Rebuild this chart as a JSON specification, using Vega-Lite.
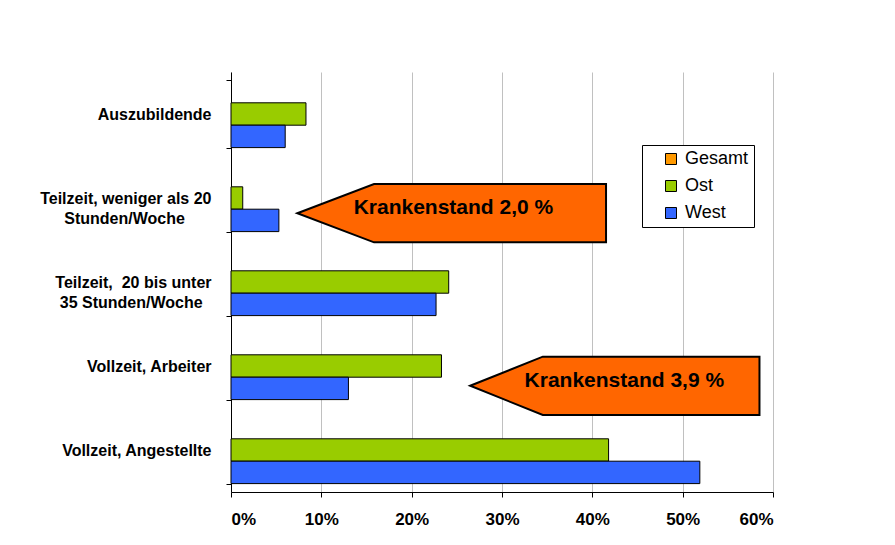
{
  "$schema": "https://vega.github.io/schema/vega-lite/v6.json",
  "width": 542,
  "height": 420,
  "padding": {"top": 64, "left": 5, "right": 5, "bottom": 5},
  "background": "white",
  "config": {
    "font": "Liberation Sans",
    "view": {"stroke": null},
    "axis": {"labelColor": "black", "domainColor": "black", "tickColor": "black", "labelFont": "Liberation Sans"},
    "legend": {"labelFont": "Liberation Sans"}
  },
  "layer": [
    {
      "data": {
        "values": [
          {"Kategorie": "Auszubildende", "Gruppe": "Ost", "Anteil": 0.083},
          {"Kategorie": "Auszubildende", "Gruppe": "West", "Anteil": 0.060},
          {"Kategorie": "Teilzeit, weniger als 20 Stunden/Woche", "Gruppe": "Ost", "Anteil": 0.013},
          {"Kategorie": "Teilzeit, weniger als 20 Stunden/Woche", "Gruppe": "West", "Anteil": 0.053},
          {"Kategorie": "Teilzeit, 20 bis unter 35 Stunden/Woche", "Gruppe": "Ost", "Anteil": 0.241},
          {"Kategorie": "Teilzeit, 20 bis unter 35 Stunden/Woche", "Gruppe": "West", "Anteil": 0.227},
          {"Kategorie": "Vollzeit, Arbeiter", "Gruppe": "Ost", "Anteil": 0.233},
          {"Kategorie": "Vollzeit, Arbeiter", "Gruppe": "West", "Anteil": 0.130},
          {"Kategorie": "Vollzeit, Angestellte", "Gruppe": "Ost", "Anteil": 0.418},
          {"Kategorie": "Vollzeit, Angestellte", "Gruppe": "West", "Anteil": 0.519}
        ]
      },
      "mark": {"type": "bar", "stroke": "black", "strokeWidth": 1},
      "encoding": {
        "y": {
          "field": "Kategorie",
          "type": "nominal",
          "scale": {
            "domain": ["Auszubildende", "Teilzeit, weniger als 20 Stunden/Woche", "Teilzeit, 20 bis unter 35 Stunden/Woche", "Vollzeit, Arbeiter", "Vollzeit, Angestellte"],
            "paddingInner": 0.2,
            "paddingOuter": 0.1
          },
          "axis": {
            "title": null,
            "labelFontSize": 16,
            "labelFontWeight": "bold",
            "labelAlign": "right",
            "labelBaseline": "middle",
            "labelLineHeight": 20,
            "labelPadding": 15,
            "labelLimit": 300,
            "tickBand": "extent",
            "tickSize": 5,
            "grid": false,
            "minExtent": 226,
            "maxExtent": 226,
            "labelExpr": "datum.value == 'Teilzeit, weniger als 20 Stunden/Woche' ? ['Teilzeit, weniger als 20', 'Stunden/Woche\u00a0\u00a0\u00a0\u00a0\u00a0\u00a0\u200b'] : datum.value == 'Teilzeit, 20 bis unter 35 Stunden/Woche' ? ['Teilzeit,\u00a0 20 bis unter', '35 Stunden/Woche\u00a0\u00a0\u200b'] : datum.value"
          }
        },
        "yOffset": {
          "field": "Gruppe",
          "type": "nominal",
          "scale": {"domain": ["Gesamt", "Ost", "West"], "paddingInner": 0, "paddingOuter": 0}
        },
        "x": {
          "field": "Anteil",
          "type": "quantitative",
          "scale": {"domain": [0, 0.6], "nice": false},
          "axis": {
            "title": null,
            "format": ".0%",
            "values": [0, 0.1, 0.2, 0.3, 0.4, 0.5, 0.6],
            "grid": true,
            "gridColor": "#c0c0c0",
            "gridWidth": 1,
            "tickSize": 5,
            "labelFontSize": 17,
            "labelFontWeight": "bold",
            "labelPadding": 14
          }
        },
        "color": {
          "field": "Gruppe",
          "type": "nominal",
          "scale": {"domain": ["Gesamt", "Ost", "West"], "range": ["#FF9900", "#99CC00", "#3366FF"]},
          "legend": {
            "title": null,
            "orient": "none",
            "legendX": 411,
            "legendY": 73,
            "strokeColor": "black",
            "fillColor": "white",
            "padding": 5,
            "symbolOffset": 15,
            "symbolType": "square",
            "symbolSize": 121,
            "symbolStrokeColor": "black",
            "symbolStrokeWidth": 1,
            "symbolOpacity": 1,
            "labelFontSize": 18,
            "labelOffset": 5,
            "rowPadding": 9
          }
        }
      }
    },
    {
      "data": {
        "values": [
          {"Kategorie": "Teilzeit, weniger als 20 Stunden/Woche", "Position": 0.2443, "Text": "Krankenstand 2,0 %"},
          {"Kategorie": "Vollzeit, Arbeiter", "Position": 0.4249, "Text": "Krankenstand 3,9 %"}
        ]
      },
      "layer": [
        {
          "transform": [{"filter": "datum.Text == 'Krankenstand 2,0 %'"}],
          "mark": {"type": "point", "filled": true, "fill": "#FF6600", "fillOpacity": 1, "opacity": 1, "stroke": "black", "strokeWidth": 2, "shape": "M-1,0L-0.503,-0.189L1,-0.189L1,0.189L-0.503,0.189Z", "size": 95296, "yOffset": 15.2},
          "encoding": {
            "y": {"field": "Kategorie", "type": "nominal"},
            "x": {"field": "Position", "type": "quantitative"}
          }
        },
        {
          "transform": [{"filter": "datum.Text == 'Krankenstand 3,9 %'"}],
          "mark": {"type": "point", "filled": true, "fill": "#FF6600", "fillOpacity": 1, "opacity": 1, "stroke": "black", "strokeWidth": 2, "shape": "M-1,0L-0.498,-0.2015L1,-0.2015L1,0.2015L-0.498,0.2015Z", "size": 83694, "yOffset": 19.8},
          "encoding": {
            "y": {"field": "Kategorie", "type": "nominal"},
            "x": {"field": "Position", "type": "quantitative"}
          }
        },
        {
          "transform": [{"filter": "datum.Text == 'Krankenstand 2,0 %'"}],
          "mark": {"type": "text", "fontSize": 21, "fontWeight": "bold", "color": "black", "align": "center", "baseline": "alphabetic", "dx": 1.75, "yOffset": 16},
          "encoding": {
            "y": {"field": "Kategorie", "type": "nominal"},
            "x": {"field": "Position", "type": "quantitative"},
            "text": {"field": "Text"}
          }
        },
        {
          "transform": [{"filter": "datum.Text == 'Krankenstand 3,9 %'"}],
          "mark": {"type": "text", "fontSize": 21, "fontWeight": "bold", "color": "black", "align": "center", "baseline": "alphabetic", "dx": 9.5, "yOffset": 20.7},
          "encoding": {
            "y": {"field": "Kategorie", "type": "nominal"},
            "x": {"field": "Position", "type": "quantitative"},
            "text": {"field": "Text"}
          }
        }
      ]
    }
  ]
}
